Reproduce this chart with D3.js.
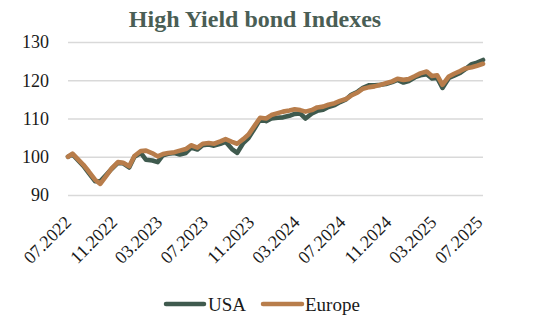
<!DOCTYPE html>
<html>
<head>
<meta charset="utf-8">
<script src="https://cdn.jsdelivr.net/npm/d3@7"></script>
<style>
  html, body { margin: 0; padding: 0; background: #fff; }
</style>
</head>
<body>
<svg id="chart" width="534" height="336"></svg>
<script>
// Semi-monthly observations of the two high yield indexes (base 100 at the start)
const dates = [
  "2022-06-21","2022-07-03","2022-08-01","2022-08-15","2022-09-01","2022-09-15",
  "2022-10-01","2022-10-15","2022-11-01","2022-11-15","2022-12-01","2022-12-15",
  "2023-01-01","2023-01-15","2023-02-01","2023-02-15","2023-03-01","2023-03-15",
  "2023-04-01","2023-04-15","2023-05-01","2023-05-15","2023-06-01","2023-06-15",
  "2023-07-01","2023-07-15","2023-08-01","2023-08-15","2023-09-01","2023-09-15",
  "2023-10-01","2023-10-15","2023-11-01","2023-11-15","2023-12-01","2023-12-15",
  "2024-01-01","2024-01-15","2024-02-01","2024-02-15","2024-03-01","2024-03-15",
  "2024-04-01","2024-04-15","2024-05-01","2024-05-15","2024-06-01","2024-06-15",
  "2024-07-01","2024-07-15","2024-08-01","2024-08-15","2024-09-01","2024-09-15",
  "2024-10-01","2024-10-15","2024-11-01","2024-11-15","2024-12-01","2024-12-15",
  "2025-01-01","2025-01-15","2025-02-01","2025-02-15","2025-03-01","2025-03-15",
  "2025-04-01","2025-04-15","2025-05-01","2025-05-15","2025-06-01","2025-06-15",
  "2025-07-01"
];

const usa = [
  100.0, 100.6, 97.6, 95.8, 93.6, 93.6,
  95.3, 96.8, 98.4, 98.3, 97.2, 100.0,
  101.0, 99.2, 99.0, 98.6, 100.4, 100.8,
  101.0, 100.6, 101.0, 102.4, 101.9, 103.0,
  103.2, 102.9, 103.4, 103.9, 102.0, 101.0,
  103.6, 104.9, 107.5, 109.8, 109.3, 110.0,
  110.2, 110.3, 110.7, 111.2, 111.3, 110.0,
  111.3, 112.0, 112.3, 113.0, 113.5, 114.3,
  115.0, 116.2, 117.0, 118.0, 118.7, 118.7,
  118.8, 119.0, 119.5, 120.1, 119.4, 119.8,
  120.8, 121.3, 121.6, 120.5, 120.6, 118.0,
  120.6, 121.2, 121.9, 122.9, 124.2, 124.6,
  125.3
];

const europe = [
  100.0, 100.8, 97.9, 96.2, 94.0, 92.9,
  95.0, 96.9, 98.6, 98.4, 97.5, 100.2,
  101.5, 101.6, 100.9, 100.1, 100.7, 101.0,
  101.2, 101.6, 102.0, 103.0, 102.4, 103.4,
  103.6, 103.4, 104.0, 104.6, 103.9, 103.4,
  104.6, 105.8, 108.2, 110.2, 110.0, 110.9,
  111.4, 111.8, 112.1, 112.4, 112.2, 111.8,
  112.2, 112.9, 113.1, 113.6, 114.0, 114.6,
  115.1, 116.0, 116.8, 117.8, 118.2, 118.4,
  118.8, 119.2, 119.7, 120.4, 120.1, 120.3,
  121.1, 121.8, 122.3, 121.1, 121.3, 118.8,
  121.0, 121.7, 122.4, 123.1, 123.4, 123.8,
  124.3
];

const yTicks = [90, 100, 110, 120, 130];
const xTickLabels = ["07.2022","11.2022","03.2023","07.2023","11.2023",
                     "03.2024","07.2024","11.2024","03.2025","07.2025"];

const seriesNames = ["USA", "Europe"];
const seriesColors = ["#3f5a4e", "#b87d4b"];

const FONT = "'Liberation Serif', 'Times New Roman', serif";

const parse = d3.timeParse("%Y-%m-%d");
const parseTick = d3.timeParse("%m.%Y");
const fmtTick = d3.timeFormat("%m.%Y");

const svg = d3.select("#chart");
const margin = { left: 68, right: 51, top: 42, bottom: 141 };
const W = 534, H = 336;

const x = d3.scaleTime()
  .domain([parse(dates[0]), parse(dates[dates.length - 1])])
  .range([margin.left, W - margin.right]);
const y = d3.scaleLinear()
  .domain([90, 130])
  .range([H - margin.bottom, margin.top]);

// Title
svg.append("text")
  .attr("x", 255).attr("y", 27)
  .attr("text-anchor", "middle")
  .style("font-family", FONT)
  .attr("font-size", 24).attr("font-weight", "bold")
  .attr("fill", "#4a5e55")
  .text("High Yield bond Indexes");

// Horizontal gridlines and y labels
const yAxis = d3.axisLeft(y).tickValues(yTicks)
  .tickSize(-(W - margin.left - margin.right)).tickPadding(19);
const gy = svg.append("g")
  .attr("transform", `translate(${margin.left},0)`)
  .call(yAxis)
  .attr("font-family", null);
gy.select(".domain").remove();
gy.selectAll(".tick line").attr("stroke", "#d9d9d9").attr("stroke-width", 1.6);
gy.selectAll(".tick text")
  .style("font-family", FONT)
  .attr("font-size", 18).attr("fill", "#1a1a1a");

// Rotated date labels along the bottom, text ending at each tick
const tickDates = xTickLabels.map(s => parseTick(s));
const xAxis = d3.axisBottom(x).tickValues(tickDates).tickFormat(fmtTick).tickSize(0);
const gx = svg.append("g")
  .attr("transform", `translate(0,223.5)`)
  .call(xAxis)
  .attr("font-family", null);
gx.select(".domain").remove();
gx.selectAll(".tick text")
  .style("font-family", FONT)
  .attr("font-size", 18).attr("fill", "#1a1a1a")
  .attr("text-anchor", "end")
  .attr("x", 0).attr("y", 0).attr("dy", 0)
  .attr("transform", "rotate(-45)");

// Lines, Europe drawn over USA
const rows = dates.map((d, i) => ({ date: parse(d), v: [usa[i], europe[i]] }));
const line = k => d3.line()
  .x(d => x(d.date))
  .y(d => y(d.v[k]))
  .curve(d3.curveLinear);

[0, 1].forEach(k => {
  svg.append("path")
    .datum(rows)
    .attr("fill", "none")
    .attr("stroke", seriesColors[k])
    .attr("stroke-width", 4.6)
    .attr("stroke-linejoin", "round")
    .attr("stroke-linecap", "round")
    .attr("d", line(k));
});

// Legend
const legend = svg.append("g").attr("transform", "translate(0,304)");
const legendItems = [
  { x1: 166, x2: 204, tx: 208 },
  { x1: 263, x2: 302, tx: 305 }
];
legendItems.forEach((it, k) => {
  legend.append("line")
    .attr("x1", it.x1).attr("x2", it.x2)
    .attr("y1", 0).attr("y2", 0)
    .attr("stroke", seriesColors[k])
    .attr("stroke-width", 4.5)
    .attr("stroke-linecap", "round");
  legend.append("text")
    .attr("x", it.tx).attr("y", 0).attr("dy", "0.35em")
    .style("font-family", FONT)
    .attr("font-size", 19).attr("fill", "#1a1a1a")
    .text(seriesNames[k]);
});
</script>
</body>
</html>
